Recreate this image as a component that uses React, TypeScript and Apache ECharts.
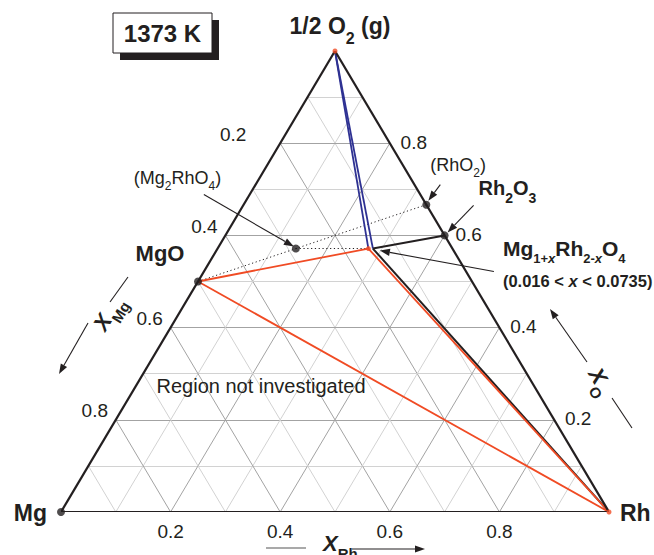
import { useEffect, useRef } from "react";
import * as echarts from "echarts";

// Compositions as mole fractions [Mg, Rh, O]
type Comp = [number, number, number];

const MG: Comp = [1, 0, 0];
const RH: Comp = [0, 1, 0];
const HALF_O2: Comp = [0, 0, 1];
const MGO: Comp = [1 / 2, 0, 1 / 2];
const RHO2: Comp = [0, 1 / 3, 2 / 3];
const RH2O3: Comp = [0, 2 / 5, 3 / 5];
const MG2RHO4: Comp = [2 / 7, 1 / 7, 4 / 7];

// Homogeneity range of the spinel Mg(1+x)Rh(2-x)O4
const SPINEL_X_MIN = 0.016;
const SPINEL_X_MAX = 0.0735;
const spinelAt = (x: number): Comp => [(1 + x) / 7, (2 - x) / 7, 4 / 7];
const SPINEL_RH_END = spinelAt(SPINEL_X_MIN);
const SPINEL_MG_END = spinelAt(SPINEL_X_MAX);

const TICK_VALUES = [0.2, 0.4, 0.6, 0.8];
const TICK_LABELS = ["0.2", "0.4", "0.6", "0.8"];
const GRID_LEVELS = [0.1, 0.2, 0.3, 0.4, 0.5, 0.6, 0.7, 0.8, 0.9];

// Tie lines, grouped by line style
const TIES_O2: Comp[][] = [
  [HALF_O2, SPINEL_MG_END],
  [HALF_O2, SPINEL_RH_END],
];
const TIES_RED: Comp[][] = [
  [MGO, SPINEL_MG_END],
  [MGO, RH],
  [SPINEL_MG_END, RH],
];
const TIES_BLACK: Comp[][] = [
  [SPINEL_RH_END, RH2O3],
  [SPINEL_RH_END, RH],
];
const TIES_DOTTED: Comp[][] = [
  [MGO, RHO2],
  [MG2RHO4, SPINEL_MG_END],
];
const EDGES: Comp[][] = [
  [MG, RH],
  [MG, HALF_O2],
  [HALF_O2, RH],
];
const BLACK_DOTS: Comp[] = [MG, MGO, MG2RHO4, RHO2, RH2O3];
const RED_DOTS: Comp[] = [HALF_O2, RH, SPINEL_MG_END];

const FONT = "'Liberation Sans', Arial, Helvetica, sans-serif";
const INK = "#231f20";
const RED = "#f04b24";
const BLUE = "#2e3192";

// ternary -> cartesian (x along Mg–Rh, y = oxygen fraction)
const toXY = (c: Comp) => [c[1] + c[2] / 2, c[2]];

function richFor(main: number, sub: number, weight: string) {
  const drop = 0.3465 * main + 0.37 * sub - 2;
  const lh = Math.round(2 * drop + sub);
  const base = { fontFamily: FONT, fill: INK, fontWeight: weight };
  return {
    m: { ...base, fontSize: main, lineHeight: lh, verticalAlign: "middle" },
    mi: { ...base, fontSize: main, lineHeight: lh, fontStyle: "italic", verticalAlign: "middle" },
    s: { ...base, fontSize: sub, verticalAlign: "bottom" },
    si: { ...base, fontSize: sub, fontStyle: "italic", verticalAlign: "bottom" },
  };
}

export default function App() {
  const ref = useRef<HTMLDivElement>(null);

  useEffect(() => {
    document.body.style.margin = "0";
    const chart = echarts.init(ref.current!, null, { renderer: "svg" });

    const seg = (pair: Comp[], lineStyle: any) => ({
      coords: pair.map(toXY),
      lineStyle: { opacity: 1, ...lineStyle },
    });

    const gridData: any[] = [];
    GRID_LEVELS.forEach((t) => {
      const major = Math.round(t * 10) % 2 === 0;
      const ls = { color: major ? "#a3a3a3" : "#d2d2d2", width: 1 };
      gridData.push(
        seg([[1 - t, 0, t], [0, 1 - t, t]], ls),
        seg([[1 - t, t, 0], [0, t, 1 - t]], ls),
        seg([[t, 1 - t, 0], [t, 0, 1 - t]], ls)
      );
    });

    const linesSeries = (data: any[], z: number) => ({
      type: "lines",
      coordinateSystem: "cartesian2d",
      silent: true,
      symbol: "none",
      z,
      lineStyle: { opacity: 1 },
      data,
    });

    chart.setOption({
      animation: false,
      grid: { left: 61, top: 51, width: 548, height: 461 },
      xAxis: { type: "value", min: 0, max: 1, show: false },
      yAxis: { type: "value", min: 0, max: 1, show: false },
      series: [
        linesSeries(gridData, 1),
        linesSeries(TIES_DOTTED.map((p) => seg(p, { color: INK, width: 1, type: [1.2, 2.6] })), 2),
        linesSeries(TIES_O2.map((p) => seg(p, { color: BLUE, width: 1.8 })), 3),
        linesSeries(TIES_BLACK.map((p) => seg(p, { color: INK, width: 2 })), 3),
        linesSeries(TIES_RED.map((p) => seg(p, { color: RED, width: 1.8 })), 4),
        linesSeries(EDGES.map((p) => seg(p, { color: INK, width: 2.2 })), 5),
        {
          type: "scatter",
          silent: true,
          z: 6,
          symbolSize: 8,
          itemStyle: { color: INK },
          data: BLACK_DOTS.map(toXY),
        },
        {
          type: "scatter",
          silent: true,
          z: 7,
          symbolSize: 5,
          itemStyle: { color: RED },
          data: RED_DOTS.map(toXY),
        },
      ],
    });

    const P = (c: Comp) => chart.convertToPixel({ gridIndex: 0 }, toXY(c)) as number[];

    const text = (x: number, y: number, t: string, rich: any, align = "left", rotation = 0) => ({
      type: "text",
      x,
      y,
      rotation,
      z: 100,
      silent: true,
      style: { text: t, x: 0, y: 0, align, verticalAlign: "middle", rich },
    });

    const arrow = (tail: number[], tip: number[], color = INK) => {
      const dx = tip[0] - tail[0];
      const dy = tip[1] - tail[1];
      const len = Math.hypot(dx, dy);
      const ux = dx / len;
      const uy = dy / len;
      const L = 10;
      const W = 3.6;
      const bx = tip[0] - ux * L;
      const by = tip[1] - uy * L;
      return [
        { type: "line", z: 100, silent: true, shape: { x1: tail[0], y1: tail[1], x2: bx, y2: by }, style: { stroke: color, lineWidth: 1.1 } },
        {
          type: "polygon",
          z: 100,
          silent: true,
          shape: { points: [[tip[0], tip[1]], [bx - uy * W, by + ux * W], [bx + uy * W, by - ux * W]] },
          style: { fill: color },
        },
      ];
    };

    const seg2 = (a: number[], b: number[], color = INK, w = 1.1) => ({
      type: "line",
      z: 100,
      silent: true,
      shape: { x1: a[0], y1: a[1], x2: b[0], y2: b[1] },
      style: { stroke: color, lineWidth: w },
    });

    const tick = richFor(19, 12, "normal");
    const elements: any[] = [];

    // tick labels on the three sides
    TICK_VALUES.forEach((v, i) => {
      const b = P([1 - v, v, 0]);
      elements.push(text(b[0], b[1] + 19, `{m|${TICK_LABELS[i]}}`, tick, "center"));
      const r = P([0, 1 - v, v]);
      elements.push(text(r[0] + 24, r[1] - 1, `{m|${TICK_LABELS[i]}}`, tick, "center"));
      const l = P([v, 0, 1 - v]);
      // the topmost X_Mg label sits further out, clear of the (Mg2RhO4) callout
      const dx = v === 0.2 ? -47 : -21;
      elements.push(text(l[0] + dx, l[1] - 9, `{m|${TICK_LABELS[i]}}`, tick, "center"));
    });

    const pO = P(HALF_O2);
    const pMg = P(MG);
    const pRh = P(RH);
    const pMgO = P(MGO);
    const pRh2O3 = P(RH2O3);
    const pRhO2 = P(RHO2);
    const pMg2 = P(MG2RHO4);
    const pSpRh = P(SPINEL_RH_END);

    // corner and phase labels
    elements.push(text(pO[0] + 5, pO[1] - 25, "{m|1/2 O}{s|2}{m| (g)}", richFor(23, 16, "bold"), "center"));
    elements.push(text(pMg[0] - 14, pMg[1] + 1, "{m|Mg}", richFor(23, 14, "bold"), "right"));
    elements.push(text(pRh[0] + 11, pRh[1] + 1, "{m|Rh}", richFor(23, 14, "bold"), "left"));
    elements.push(text(pMgO[0] - 38, pMgO[1] - 28, "{m|MgO}", richFor(22, 14, "bold"), "center"));
    elements.push(text(pRh2O3[0] + 34, pRh2O3[1] - 47, "{m|Rh}{s|2}{m|O}{s|3}", richFor(20, 14, "bold"), "left"));
    elements.push(
      text(pSpRh[0] + 130, pSpRh[1], "{m|Mg}{s|1+}{si|x}{m|Rh}{s|2-}{si|x}{m|O}{s|4}", richFor(21, 13, "bold"), "left")
    );
    elements.push(
      text(pSpRh[0] + 130, pSpRh[1] + 32, "{m|(0.016 < }{mi|x}{m| < 0.0735)}", richFor(16.5, 11, "bold"), "left")
    );
    elements.push(text(pRhO2[0] + 4, pRhO2[1] - 40, "{m|(RhO}{s|2}{m|)}", richFor(18, 12, "normal"), "left"));
    elements.push(text(pMg2[0] - 162, pMg2[1] - 71, "{m|(Mg}{s|2}{m|RhO}{s|4}{m|)}", richFor(18, 12, "normal"), "left"));
    const pRegion = P([0.5, 0.23, 0.27]);
    elements.push(text(pRegion[0], pRegion[1] - 2, "{m|Region not investigated}", richFor(20, 12, "normal"), "center"));

    // callout arrows
    elements.push(...arrow([pRhO2[0] + 14, pRhO2[1] - 20], [pRhO2[0] + 2, pRhO2[1] - 4]));
    elements.push(...arrow([pRh2O3[0] + 29, pRh2O3[1] - 30], [pRh2O3[0] + 3, pRh2O3[1] - 3]));
    elements.push(...arrow([pSpRh[0] + 121, pSpRh[1] + 23], [pSpRh[0] + 7, pSpRh[1] + 2]));
    elements.push(...arrow([pMg2[0] - 92, pMg2[1] - 54], [pMg2[0] - 2, pMg2[1] - 2]));

    // axis titles with their direction marks
    const axisRich = {
      x: { fontFamily: FONT, fill: INK, fontWeight: "bold", fontStyle: "italic", fontSize: 22, lineHeight: 36, verticalAlign: "middle" },
      s: { fontFamily: FONT, fill: INK, fontWeight: "bold", fontSize: 15, verticalAlign: "bottom" },
    };
    elements.push(text(323, 543, "{x|X}{s|Rh}", axisRich, "left"));
    elements.push(seg2([266, 548], [306, 548], "#8c8c8c", 1.6));
    elements.push(...arrow([352, 549], [425, 549]));

    const angMg = Math.atan2(pMg[1] - pO[1], pO[0] - pMg[0]);
    elements.push(text(108, 313, "{x|X}{s|Mg}", axisRich, "center", angMg));
    elements.push(seg2([128, 277], [110, 302]));
    elements.push(...arrow([88, 323], [59, 374]));

    const angO = -Math.atan2(pRh[1] - pO[1], pRh[0] - pO[0]);
    elements.push(text(601, 381, "{x|X}{s|O}", axisRich, "center", angO));
    elements.push(...arrow([587, 362], [550, 309]));
    elements.push(seg2([612, 398], [632, 428]));

    // temperature box
    elements.push(
      { type: "rect", z: 99, silent: true, shape: { x: 120, y: 20, width: 99, height: 40 }, style: { fill: INK } },
      { type: "rect", z: 100, silent: true, shape: { x: 113, y: 13, width: 99, height: 40 }, style: { fill: "#fff", stroke: INK, lineWidth: 1 } },
      text(162.5, 33.5, "{m|1373 K}", richFor(24, 14, "bold"), "center")
    );

    chart.setOption({ graphic: { elements } });

    return () => chart.dispose();
  }, []);

  return <div ref={ref} style={{ width: 654, height: 555 }} />;
}
